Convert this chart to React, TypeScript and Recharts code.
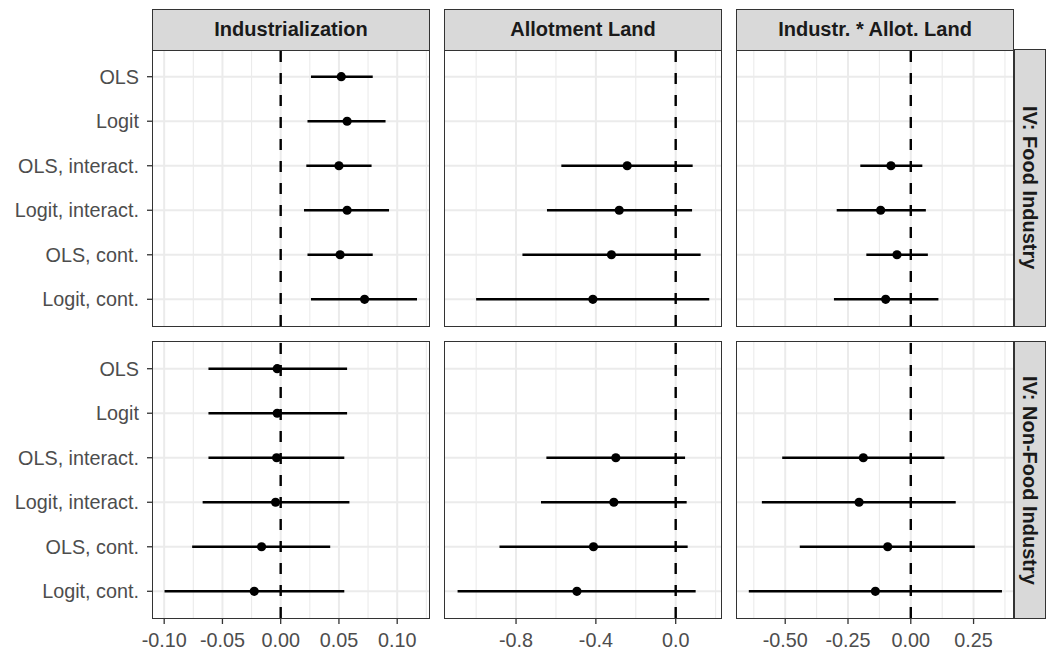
import React from "react";
import {
  ScatterChart,
  Scatter,
  XAxis,
  YAxis,
  ReferenceLine,
  ErrorBar
} from "recharts";

const models = ["OLS", "Logit", "OLS, interact.", "Logit, interact.", "OLS, cont.", "Logit, cont."];
const terms = ["Industrialization", "Allotment Land", "Industr. * Allot. Land"];
const ivs = ["IV: Food Industry", "IV: Non-Food Industry"];

// IV: Food Industry
const foodIndEst = [0.052, 0.057, 0.050, 0.057, 0.051, 0.072];
const foodIndLo = [0.026, 0.023, 0.022, 0.020, 0.023, 0.026];
const foodIndHi = [0.079, 0.090, 0.078, 0.093, 0.079, 0.117];

const foodAllotEst = [null, null, -0.243, -0.283, -0.322, -0.415];
const foodAllotLo = [null, null, -0.573, -0.645, -0.768, -1.0];
const foodAllotHi = [null, null, 0.085, 0.082, 0.125, 0.168];

const foodInterEst = [null, null, -0.079, -0.120, -0.055, -0.100];
const foodInterLo = [null, null, -0.201, -0.295, -0.177, -0.306];
const foodInterHi = [null, null, 0.046, 0.060, 0.068, 0.110];

// IV: Non-Food Industry
const nonfoodIndEst = [-0.003, -0.003, -0.0035, -0.0044, -0.0164, -0.0227];
const nonfoodIndLo = [-0.062, -0.062, -0.062, -0.067, -0.076, -0.0997];
const nonfoodIndHi = [0.057, 0.057, 0.0546, 0.059, 0.0425, 0.0546];

const nonfoodAllotEst = [null, null, -0.30, -0.31, -0.412, -0.495];
const nonfoodAllotLo = [null, null, -0.648, -0.675, -0.883, -1.093];
const nonfoodAllotHi = [null, null, 0.047, 0.055, 0.06, 0.10];

const nonfoodInterEst = [null, null, -0.189, -0.206, -0.092, -0.141];
const nonfoodInterLo = [null, null, -0.512, -0.593, -0.442, -0.645];
const nonfoodInterHi = [null, null, 0.134, 0.179, 0.255, 0.363];

// x scales per column
const indTicks = [-0.1, -0.05, 0, 0.05, 0.1];
const indMinor = [-0.075, -0.025, 0.025, 0.075, 0.125];
const indDomain = [-0.1096, 0.1273];
const allotTicks = [-0.8, -0.4, 0];
const allotMinor = [-1.0, -0.6, -0.2, 0.2];
const allotDomain = [-1.156, 0.227];
const interTicks = [-0.5, -0.25, 0, 0.25];
const interMinor = [-0.625, -0.375, -0.125, 0.125, 0.375];
const interDomain = [-0.692, 0.407];

const rowTicks = [1, 2, 3, 4, 5, 6];

const FONT = "'Liberation Sans', Arial, Helvetica, sans-serif";
const GRID = "#EBEBEB";
const colLeft = [153, 445, 737];
const rowTop = [50, 342];
const panelW = 276;
const panelH = 276;
const axisW = 153;
const axisH = 33;

const cols = [
  { ticks: indTicks, minor: indMinor, domain: indDomain, digits: 2 },
  { ticks: allotTicks, minor: allotMinor, domain: allotDomain, digits: 1 },
  { ticks: interTicks, minor: interMinor, domain: interDomain, digits: 2 }
];

const series = [
  [
    [foodIndEst, foodIndLo, foodIndHi],
    [foodAllotEst, foodAllotLo, foodAllotHi],
    [foodInterEst, foodInterLo, foodInterHi]
  ],
  [
    [nonfoodIndEst, nonfoodIndLo, nonfoodIndHi],
    [nonfoodAllotEst, nonfoodAllotLo, nonfoodAllotHi],
    [nonfoodInterEst, nonfoodInterLo, nonfoodInterHi]
  ]
];

const Dot = (props: any) => <circle cx={props.cx} cy={props.cy} r={4.6} fill="#000" />;

function Panel({ row, col }: { row: number; col: number }) {
  const [est, lo, hi] = series[row][col];
  const { ticks, minor, domain, digits } = cols[col];
  const first = col === 0;
  const bottom = row === 1;
  const data = models
    .map((m, i) =>
      est[i] == null
        ? null
        : { model: m, row: i + 1, est: est[i], err: [est[i]! - lo[i]!, hi[i]! - est[i]!] }
    )
    .filter(Boolean) as any[];

  return (
    <div
      style={{
        position: "absolute",
        left: colLeft[col] - (first ? axisW : 0),
        top: rowTop[row]
      }}
    >
      <ScatterChart
        width={panelW + (first ? axisW : 0)}
        height={panelH + (bottom ? axisH : 0)}
        margin={{ top: 0, right: 0, bottom: 0, left: 0 }}
      >
        <XAxis
          type="number"
          dataKey="est"
          domain={domain}
          ticks={ticks}
          interval={0}
          allowDataOverflow
          height={bottom ? axisH : 0}
          axisLine={false}
          tickSize={6}
          tickMargin={9}
          tickLine={bottom ? { stroke: "#333", strokeWidth: 1.3 } : false}
          tick={
            bottom
              ? (p: any) => (
                  <text
                    x={p.x}
                    y={p.y}
                    dy="0.71em"
                    textAnchor="middle"
                    fill="#4D4D4D"
                    fontSize={19.8}
                    fontFamily={FONT}
                  >
                    {Number(p.payload.value).toFixed(digits)}
                  </text>
                )
              : false
          }
        />
        <YAxis
          type="number"
          dataKey="row"
          domain={[0.4, 6.6]}
          ticks={rowTicks}
          interval={0}
          reversed
          allowDataOverflow
          width={first ? axisW : 0}
          axisLine={false}
          tickSize={6}
          tickMargin={8}
          tickLine={first ? { stroke: "#333", strokeWidth: 1.3 } : false}
          tick={
            first
              ? (p: any) => (
                  <text
                    x={p.x}
                    y={p.y}
                    dy="0.35em"
                    textAnchor="end"
                    fill="#4D4D4D"
                    fontSize={19.8}
                    fontFamily={FONT}
                  >
                    {models[p.payload.value - 1]}
                  </text>
                )
              : false
          }
        />
        {minor.map((v) => (
          <ReferenceLine key={`mn-${v}`} x={v} stroke={GRID} strokeWidth={1.1} zIndex={-60} />
        ))}
        {ticks.map((v) => (
          <ReferenceLine key={`mj-${v}`} x={v} stroke={GRID} strokeWidth={2} zIndex={-50} />
        ))}
        {rowTicks.map((v) => (
          <ReferenceLine key={`hr-${v}`} y={v} stroke={GRID} strokeWidth={2} zIndex={-50} />
        ))}
        <ReferenceLine x={0} stroke="#000" strokeWidth={2.4} strokeDasharray="11 11" zIndex={-40} />
        <Scatter data={data} shape={Dot} isAnimationActive={false}>
          <ErrorBar dataKey="err" direction="x" width={0} stroke="#000" strokeWidth={2.5} isAnimationActive={false} />
        </Scatter>
      </ScatterChart>
    </div>
  );
}

const stripBox: React.CSSProperties = {
  position: "absolute",
  boxSizing: "border-box",
  background: "#D9D9D9",
  border: "1.3px solid #333",
  display: "flex",
  alignItems: "center",
  justifyContent: "center",
  fontFamily: FONT,
  fontWeight: "bold",
  fontSize: 20,
  color: "#1A1A1A",
  whiteSpace: "nowrap"
};

export default function App() {
  return (
    <div
      style={{
        position: "absolute",
        left: 0,
        top: 0,
        width: 1046,
        height: 651,
        background: "#fff",
        overflow: "hidden"
      }}
    >
      {[0, 1].map((r) => [0, 1, 2].map((c) => <Panel key={`p-${r}-${c}`} row={r} col={c} />))}
      {[0, 1].map((r) =>
        [0, 1, 2].map((c) => (
          <div
            key={`f-${r}-${c}`}
            style={{
              position: "absolute",
              boxSizing: "border-box",
              left: colLeft[c] - 0.65,
              top: rowTop[r] - 0.65,
              width: panelW + 1.3,
              height: panelH + 1.3,
              border: "1.3px solid #333",
              pointerEvents: "none"
            }}
          />
        ))
      )}
      {terms.map((t, c) => (
        <div
          key={`s-${c}`}
          style={{ ...stripBox, left: colLeft[c] - 0.65, top: 9, width: panelW + 1.3, height: rowTop[0] + 0.65 - 9 }}
        >
          {t}
        </div>
      ))}
      {ivs.map((t, r) => (
        <div
          key={`r-${r}`}
          style={{
            ...stripBox,
            left: colLeft[2] + panelW + 0.5,
            top: rowTop[r] - 0.65,
            width: 32,
            height: panelH + 1.3,
            writingMode: "vertical-rl"
          }}
        >
          {t}
        </div>
      ))}
    </div>
  );
}
